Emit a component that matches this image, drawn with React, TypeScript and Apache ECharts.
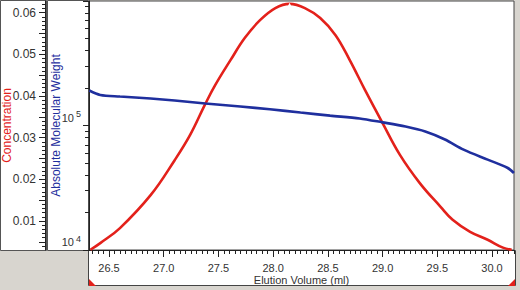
import React, { useEffect, useRef } from "react";
import * as echarts from "echarts";

// Elution volume (ml) vs concentration (red trace)
const concVolume = [26.33, 26.42, 26.6, 26.88, 27.1, 27.24, 27.38, 27.47, 27.61, 27.74, 27.88, 28.02, 28.15, 28.29, 28.43, 28.57, 28.7, 28.84, 29.0, 29.16, 29.34, 29.53, 29.64, 29.8, 29.96, 30.1, 30.18];
const concValues = [0.0031, 0.0047, 0.0083, 0.0162, 0.0246, 0.0306, 0.0381, 0.0426, 0.0486, 0.0539, 0.0582, 0.0611, 0.0621, 0.0611, 0.0587, 0.0546, 0.0486, 0.0414, 0.0335, 0.0258, 0.0191, 0.0134, 0.0103, 0.0074, 0.0055, 0.0036, 0.0031];

// Elution volume (ml) vs absolute molecular weight (blue trace)
const mwVolume = [26.32, 26.42, 26.6, 26.88, 27.1, 27.38, 27.7, 27.97, 28.25, 28.52, 28.79, 29.0, 29.21, 29.39, 29.57, 29.74, 29.96, 30.14, 30.2];
const mwValues = [191000, 176000, 171000, 165000, 159000, 150000, 142000, 135000, 127000, 120000, 114000, 106000, 98000, 89500, 77200, 64000, 53200, 45800, 41500];

// Tick labels
const xTickLabels = [26.5, 27.0, 27.5, 28.0, 28.5, 29.0, 29.5, 30.0];
const concTickLabels = [0.01, 0.02, 0.03, 0.04, 0.05, 0.06];

const X_MIN = 26.317;
const X_MAX = 30.201;
const C_MIN = 0.00304;
const C_MAX = 0.0628;

const FONT = "'Liberation Sans', Arial, sans-serif";

function range(a: number, b: number, step: number, dec: number) {
  const out: number[] = [];
  for (let v = a; v <= b + 1e-9; v += step) out.push(+v.toFixed(dec));
  return out;
}

export default function App() {
  const ref = useRef<HTMLDivElement>(null);
  useEffect(() => {
    if (!ref.current) return;
    const chart = echarts.init(ref.current, undefined, { renderer: "svg" });

    const xMinor = range(26.35, 30.2, 0.05, 2).filter((v) => v > X_MIN && v < X_MAX);
    const xMajor = range(26.5, 30.0, 0.5, 1);
    const cMinor = range(0.004, 0.062, 0.001, 3).filter((v) => v > C_MIN && v < C_MAX);
    const cMajor = range(0.005, 0.06, 0.005, 3);
    const mwMinor: number[] = [];
    [4, 5].forEach((e) => {
      for (let k = 2; k <= 9; k++) mwMinor.push(Math.log10(k * Math.pow(10, e)));
    });

    const red = "#e3211b";
    const blue = "#1f2f9e";

    chart.setOption({
      animation: false,
      backgroundColor: "transparent",
      textStyle: { fontFamily: FONT },
      graphic: {
        elements: [
          { type: "rect", z: -100, shape: { x: 0, y: 0, width: 520, height: 290 }, style: { fill: "#d8d5cf" } },
          { type: "rect", z: -90, shape: { x: 0.5, y: 0.5, width: 46, height: 250 }, style: { fill: "#fff", stroke: "#555", lineWidth: 1 } },
          { type: "rect", z: -90, shape: { x: 47.5, y: 0.5, width: 41, height: 250 }, style: { fill: "#fff", stroke: "#555", lineWidth: 1 } },
          { type: "rect", z: -90, shape: { x: 88.5, y: 250.5, width: 427, height: 35 }, style: { fill: "#fff", stroke: "#444", lineWidth: 1 } },
          { type: "polygon", z: 10, shape: { points: [[89, 279], [89, 286], [96, 286]] }, style: { fill: red } },
          { type: "polygon", z: 10, shape: { points: [[515, 279], [515, 286], [508, 286]] }, style: { fill: red } },
        ],
      },
      grid: {
        left: 89,
        right: 6,
        top: 1,
        bottom: 40,
        containLabel: false,
        outerBoundsMode: "none",
        show: true,
        backgroundColor: "#fff",
        borderColor: "#444",
        borderWidth: 1,
      },
      xAxis: [
        {
          type: "value",
          min: X_MIN,
          max: X_MAX,
          position: "bottom",
          name: "Elution Volume (ml)",
          nameLocation: "middle",
          nameGap: 24,
          nameMoveOverlap: false,
          nameTextStyle: { fontSize: 11, lineHeight: 11, color: "#333", fontFamily: FONT },
          axisLine: { show: true, lineStyle: { color: "#222", width: 1 } },
          axisTick: { show: true, length: 4, customValues: xMinor, lineStyle: { color: "#222" } },
          axisLabel: {
            customValues: xTickLabels,
            formatter: (v: number) => v.toFixed(1),
            fontSize: 11,
            lineHeight: 11,
            color: "#333",
            margin: 12,
            fontFamily: FONT,
          },
          splitLine: { show: false },
        },
        {
          type: "value",
          min: X_MIN,
          max: X_MAX,
          position: "bottom",
          axisLine: { show: false },
          axisTick: { show: true, length: 7, customValues: xMajor, lineStyle: { color: "#222" } },
          axisLabel: { show: false },
          splitLine: { show: false },
        },
      ],
      yAxis: [
        {
          type: "value",
          min: C_MIN,
          max: C_MAX,
          position: "left",
          offset: 44,
          name: "Concentration",
          nameLocation: "middle",
          nameGap: 32,
          nameMoveOverlap: false,
          nameTextStyle: { fontSize: 12, color: red, fontFamily: FONT },
          axisLine: { show: true, lineStyle: { color: "#222" } },
          axisTick: { show: true, length: 3, customValues: cMinor, lineStyle: { color: "#222" } },
          axisLabel: {
            customValues: concTickLabels,
            formatter: (v: number) => v.toFixed(2),
            fontSize: 12,
            color: "#333",
            margin: 9,
            fontFamily: FONT,
          },
          splitLine: { show: false },
        },
        {
          type: "value",
          min: C_MIN,
          max: C_MAX,
          position: "left",
          offset: 44,
          axisLine: { show: false },
          axisTick: { show: true, length: 6, customValues: cMajor, lineStyle: { color: "#222" } },
          axisLabel: { show: false },
          splitLine: { show: false },
        },
        {
          type: "log",
          logBase: 10,
          min: 10000,
          max: 1000000,
          position: "left",
          offset: 0,
          name: "Absolute Molecular Weight",
          nameLocation: "middle",
          nameGap: 27,
          nameMoveOverlap: false,
          nameTextStyle: { fontSize: 12, color: blue, fontFamily: FONT },
          axisLine: { show: true, lineStyle: { color: "#222" } },
          axisTick: { show: true, length: 6, lineStyle: { color: "#222" } },
          axisLabel: {
            formatter: (v: number) => {
              const e = Math.round(Math.log10(v));
              if (e >= 6) return "";
              return `{b|10}{s|${e}}`;
            },
            verticalAlign: "bottom",
            margin: 8,
            rich: {
              b: { fontSize: 11, color: "#333", fontFamily: FONT },
              s: { fontSize: 9, color: "#333", fontFamily: FONT, padding: [0, 0, 7, 2] },
            },
          },
          splitLine: { show: false },
        },
        {
          type: "value",
          min: 4,
          max: 6,
          position: "left",
          offset: 0,
          axisLine: { show: false },
          axisTick: { show: true, length: 4, customValues: mwMinor, lineStyle: { color: "#222" } },
          axisLabel: { show: false },
          splitLine: { show: false },
        },
      ],
      series: [
        {
          type: "line",
          name: "Concentration",
          xAxisIndex: 0,
          yAxisIndex: 0,
          data: concVolume.map((x, i) => [x, concValues[i]]),
          smooth: 0.4,
          showSymbol: false,
          lineStyle: { color: red, width: 2.6 },
          itemStyle: { color: red },
          markPoint: {
            symbol: "emptyTriangle",
            symbolSize: 6,
            symbolOffset: [0, 4],
            itemStyle: { color: "#fff", borderColor: "#888", borderWidth: 1 },
            label: { show: false },
            data: [{ type: "max" }],
          },
        },
        {
          type: "line",
          name: "Absolute Molecular Weight",
          xAxisIndex: 0,
          yAxisIndex: 2,
          data: mwVolume.map((x, i) => [x, mwValues[i]]),
          smooth: 0.3,
          showSymbol: false,
          clip: true,
          lineStyle: { color: blue, width: 2.6 },
          itemStyle: { color: blue },
        },
      ],
    });
    return () => chart.dispose();
  }, []);

  return (
    <div
      ref={ref}
      style={{ position: "absolute", left: 0, top: 0, width: 520, height: 290 }}
    />
  );
}
